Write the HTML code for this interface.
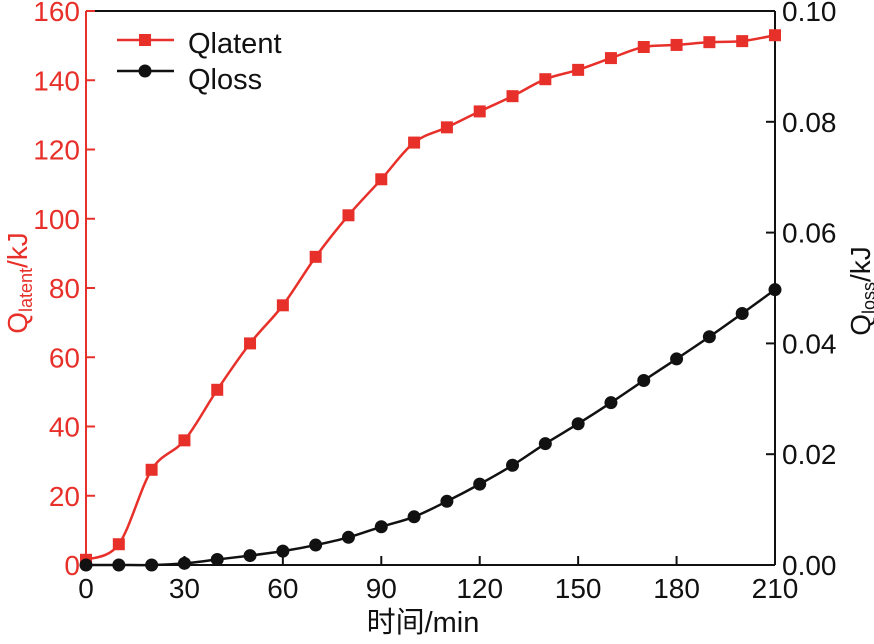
<!DOCTYPE html>
<html><head><meta charset="utf-8"><style>
body{margin:0;background:#fff}
svg text{font-family:"Liberation Sans","Noto Sans CJK SC",sans-serif}
</style></head><body>
<svg id="c" width="874" height="639" xmlns="http://www.w3.org/2000/svg"></svg>
<script>
const times=[0,10,20,30,40,50,60,70,80,90,100,110,120,130,140,150,160,170,180,190,200,210];
const latent=[1.5,6,27.5,36,50.6,64,75,89,101,111.4,122,126.4,131,135.4,140.3,143,146.4,149.6,150.2,151,151.3,153];
const loss=[0,0,0,0.0003,0.001,0.0017,0.0025,0.0036,0.005,0.0069,0.0087,0.0115,0.0146,0.018,0.0219,0.0255,0.0293,0.0333,0.0372,0.0412,0.0454,0.0497];
const xTicks=[0,30,60,90,120,150,180,210];
const yLTicks=[0,20,40,60,80,100,120,140,160];
const yRTicks=["0.00","0.02","0.04","0.06","0.08","0.10"];
const L=86,R=775,T=11,B=565;
const X=v=>L+(v/210)*(R-L);
const YL=v=>B-(v/160)*(B-T);
const YR=v=>B-(v/0.1)*(B-T);
const RED="#e8302a";
const svg=document.getElementById('c');
const NS="http://www.w3.org/2000/svg";
function mk(tag,attrs,parent){const e=document.createElementNS(NS,tag);for(const k in attrs)e.setAttribute(k,attrs[k]);(parent||svg).appendChild(e);return e;}
function smooth(pts){let d=`M${pts[0][0]},${pts[0][1]}`;for(let i=0;i<pts.length-1;i++){const p0=pts[Math.max(0,i-1)],p1=pts[i],p2=pts[i+1],p3=pts[Math.min(pts.length-1,i+2)];d+=` C${p1[0]+(p2[0]-p0[0])/6},${p1[1]+(p2[1]-p0[1])/6} ${p2[0]-(p3[0]-p1[0])/6},${p2[1]-(p3[1]-p1[1])/6} ${p2[0]},${p2[1]}`;}return d;}
let e;
e=mk('line',{x1:L,y1:T,x2:R,y2:T,stroke:'#111','stroke-width':2});

e=mk('line',{x1:L,y1:B,x2:R,y2:B,stroke:'#111','stroke-width':2});

e=mk('line',{x1:R,y1:T,x2:R,y2:B,stroke:'#111','stroke-width':2});

e=mk('line',{x1:L,y1:T,x2:L,y2:B,stroke:RED,'stroke-width':2});

xTicks.forEach(v=>{
 e=mk('line',{x1:X(v),y1:B,x2:X(v),y2:B-9,stroke:'#111','stroke-width':2});
 
 e=mk('text',{x:X(v),y:598,'font-size':28,'text-anchor':'middle',fill:'#111'});e.textContent=v;
 
});
yLTicks.forEach(v=>{
 e=mk('line',{x1:L,y1:YL(v),x2:L+9,y2:YL(v),stroke:RED,'stroke-width':2});
 
 e=mk('text',{x:L-6,y:YL(v)+10,'font-size':28,'text-anchor':'end',fill:RED});e.textContent=v;
 
});
yRTicks.forEach(s=>{const v=parseFloat(s);
 e=mk('line',{x1:R,y1:YR(v),x2:R-9,y2:YR(v),stroke:'#111','stroke-width':2});
 
 e=mk('text',{x:R+7,y:YR(v)+10,'font-size':28,fill:'#111'});e.textContent=s;
 
});
e=mk('text',{x:423,y:632,'font-size':29,'text-anchor':'middle',fill:'#111'});e.textContent='时间/min';

e=mk('text',{transform:'translate(27,283) rotate(-90)','font-size':28,'text-anchor':'middle',fill:RED});
e.innerHTML='Q<tspan font-size="18" dy="5">latent</tspan><tspan dy="-5">/kJ</tspan>';

e=mk('text',{transform:'translate(870,291) rotate(-90)','font-size':28,'text-anchor':'middle',fill:'#111'});
e.innerHTML='Q<tspan font-size="18" dy="5">loss</tspan><tspan dy="-5">/kJ</tspan>';

const lp=times.map((t,i)=>[X(t),YL(latent[i])]);
e=mk('path',{d:smooth(lp),fill:'none',stroke:RED,'stroke-width':2.5});

lp.forEach(p=>{e=mk('rect',{x:p[0]-6,y:p[1]-6,width:12,height:12,fill:RED});
 });
const sp=times.map((t,i)=>[X(t),YR(loss[i])]);
e=mk('path',{d:smooth(sp),fill:'none',stroke:'#111','stroke-width':2.5});

sp.forEach(p=>{e=mk('circle',{cx:p[0],cy:p[1],r:6.5,fill:'#111'});
 });
e=mk('line',{x1:117,y1:40,x2:174,y2:40,stroke:RED,'stroke-width':2.5});

e=mk('rect',{x:139,y:34,width:12,height:12,fill:RED});

e=mk('text',{x:188,y:53,'font-size':29,fill:'#111'});e.textContent='Qlatent';

e=mk('line',{x1:117,y1:71,x2:174,y2:71,stroke:'#111','stroke-width':2.5});

e=mk('circle',{cx:145,cy:71,r:6.5,fill:'#111'});

e=mk('text',{x:188,y:89,'font-size':29,fill:'#111'});e.textContent='Qloss';

</script>
</body></html>
